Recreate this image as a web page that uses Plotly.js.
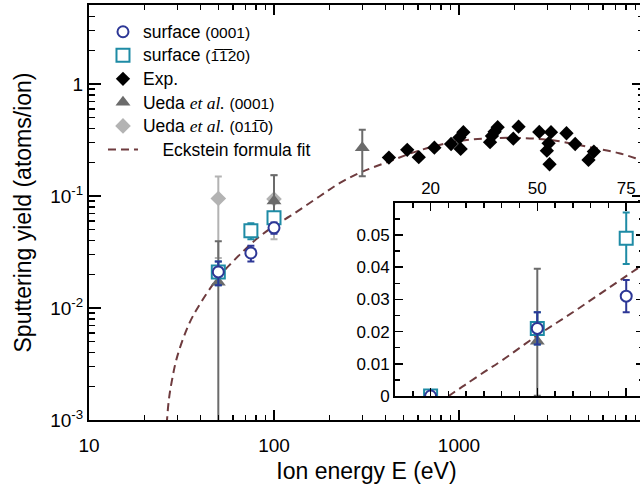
<!DOCTYPE html>
<html>
<head>
<meta charset="utf-8">
<script src="https://cdn.plot.ly/plotly-3.0.1.min.js"></script>
<style>
html,body{margin:0;padding:0;overflow:hidden;background:#fff;}
#chart{width:660px;height:488px;}
</style>
</head>
<body>
<div id="chart"></div>
<script>
// ---- data ----
const surf0001E = [20, 50, 75, 100];
const surf0001Y = [0, 0.021, 0.031, 0.052];
const surf0001Err = [0, 0.005, 0.005, 0.006];

const surf1120E = [20, 50, 75, 100];
const surf1120Y = [0, 0.021, 0.049, 0.064];
const surf1120Err = [0, 0.005, 0.008, 0.008];

const expE = [418, 525, 606, 736, 906, 1021, 1005, 1056, 1472, 1507, 1558, 1618, 1966, 2099, 2716, 3143, 3050, 2985, 3087, 3811, 4246, 5012, 5358];
const expY = [0.22, 0.258, 0.222, 0.27, 0.291, 0.263, 0.332, 0.371, 0.302, 0.344, 0.375, 0.411, 0.325, 0.416, 0.373, 0.371, 0.295, 0.254, 0.192, 0.363, 0.291, 0.21, 0.249];

const ueda0001E = [50, 100, 300];
const ueda0001Y = [0.017, 0.09, 0.27];
const ueda0001ErrPlus = [0.0225, 0.063, 0.12];
const ueda0001ErrMinus = [0.0169, 0.03, 0.12];

const ueda0110E = [50, 100];
const ueda0110Y = [0.095, 0.094];
const ueda0110ErrPlus = [0.054, 0.06];
const ueda0110ErrMinus = [0.067, 0.053];

const eckE = [25, 26, 27, 28, 30, 35, 40, 50, 60, 70, 80, 100, 122, 176, 226, 296, 418, 611, 925, 1400, 2120, 3204, 4853, 7336, 9411, 10000];
const eckY = [0, 0.0007, 0.0015, 0.0022, 0.0037, 0.0074, 0.011, 0.0188, 0.026, 0.0335, 0.041, 0.054, 0.066, 0.099, 0.13, 0.163, 0.203, 0.255, 0.303, 0.326, 0.33, 0.314, 0.277, 0.241, 0.212, 0.205];

const xTickVals = [10, 100, 1000, 10000];
const xTickText = ['10', '100', '1000', '10000'];
const yTickVals = [0.001, 0.01, 0.1, 1];
const yTickText = ['10<sup>-3</sup>', '10<sup>-2</sup>', '10<sup>-1</sup>', '1'];
const insetXTickVals = [20, 50, 75];
const insetYTickVals = [0, 0.01, 0.02, 0.03, 0.04, 0.05];
const insetYTickText = ['0', '0.01', '0.02', '0.03', '0.04', '0.05'];

// ---- styles ----
const FONT = 'Liberation Sans, Arial, sans-serif';
const cNavy = '#2d3796';
const cTeal = '#1e8ba5';
const cDark = '#6b6b6b';
const cLight = '#b3b3b3';
const cEck = '#6e3b3e';

function minorLog(lo, hi) {
  const out = [];
  for (let d = lo; d < hi; d++) {
    for (let k = 2; k <= 9; k++) out.push(k * Math.pow(10, d));
  }
  return out;
}

const etal = '<span style="font-family:\'Liberation Serif\',\'Times New Roman\',serif;font-style:italic">et al.</span>';
const small = (t) => '<span style="font-size:15.5px">' + t + '</span>';
const big = (t) => '<span style="font-size:17.5px">' + t + '</span>';

const mainPos = eckE.map((e, i) => [e, eckY[i]]).filter(p => p[1] > 0);
const insetIdx = (arr) => arr.map((e, i) => i).filter(i => arr[i] <= 80);

const traces = [
  { x: mainPos.map(p => p[0]), y: mainPos.map(p => p[1]), mode: 'lines', name: big('\u00a0\u00a0\u00a0\u00a0Eckstein formula fit'),
    line: { color: cEck, width: 2, dash: '8px,5px', shape: 'spline' }, legendrank: 6 },
  { x: ueda0110E, y: ueda0110Y, mode: 'markers', name: big('Ueda ' + etal + ' ') + small('(011\u03050)'),
    marker: { symbol: 'diamond', size: 12, color: cLight },
    error_y: { type: 'data', symmetric: false, array: ueda0110ErrPlus, arrayminus: ueda0110ErrMinus, color: cLight, thickness: 2, width: 3.5 },
    legendrank: 5 },
  { x: ueda0001E, y: ueda0001Y, mode: 'markers', name: big('Ueda ' + etal + ' ') + small('(0001)'),
    marker: { symbol: 'triangle-up', size: 13, color: cDark },
    error_y: { type: 'data', symmetric: false, array: ueda0001ErrPlus, arrayminus: ueda0001ErrMinus, color: cDark, thickness: 2, width: 3.5 },
    legendrank: 4 },
  { x: expE, y: expY, mode: 'markers', name: big('Exp.'),
    marker: { symbol: 'diamond', size: 11, color: '#000' }, legendrank: 3 },
  { x: surf1120E, y: surf1120Y, mode: 'markers', name: big('surface ') + small('(1\u03051\u030520)'),
    marker: { symbol: 'square', size: 13, color: '#fff', line: { color: cTeal, width: 2 } },
    error_y: { type: 'data', array: surf1120Err, color: cTeal, thickness: 2, width: 3.5 },
    legendrank: 2 },
  { x: surf0001E, y: surf0001Y, mode: 'markers', name: big('surface ') + small('(0001)'),
    marker: { symbol: 'circle', size: 11, color: '#fff', line: { color: cNavy, width: 2 } },
    error_y: { type: 'data', array: surf0001Err, color: cNavy, thickness: 2, width: 3.5 },
    legendrank: 1 }
];

// inset traces
const ie = insetIdx(eckE);
traces.push({ x: ie.map(i => eckE[i]), y: ie.map(i => eckY[i]), xaxis: 'x2', yaxis: 'y2', mode: 'lines', showlegend: false,
  line: { color: cEck, width: 2, dash: '8px,5px', shape: 'spline' } });
const iu = insetIdx(ueda0001E);
traces.push({ x: iu.map(i => ueda0001E[i]), y: iu.map(i => ueda0001Y[i]), xaxis: 'x2', yaxis: 'y2', mode: 'markers', showlegend: false,
  marker: { symbol: 'triangle-up', size: 13, color: cDark },
  error_y: { type: 'data', symmetric: false, array: iu.map(i => ueda0001ErrPlus[i]), arrayminus: iu.map(i => ueda0001ErrMinus[i]), color: cDark, thickness: 2, width: 3.5 } });
const is = insetIdx(surf1120E);
traces.push({ x: is.map(i => surf1120E[i]), y: is.map(i => surf1120Y[i]), xaxis: 'x2', yaxis: 'y2', mode: 'markers', showlegend: false,
  marker: { symbol: 'square', size: 13, color: '#fff', line: { color: cTeal, width: 2 } },
  error_y: { type: 'data', array: is.map(i => surf1120Err[i]), color: cTeal, thickness: 2, width: 3.5 } });
const ic = insetIdx(surf0001E);
traces.push({ x: ic.map(i => surf0001E[i]), y: ic.map(i => surf0001Y[i]), xaxis: 'x2', yaxis: 'y2', mode: 'markers', showlegend: false,
  marker: { symbol: 'circle', size: 11, color: '#fff', line: { color: cNavy, width: 2 } },
  error_y: { type: 'data', array: ic.map(i => surf0001Err[i]), color: cNavy, thickness: 2, width: 3.5 } });

const axisCommon = { showline: true, linecolor: '#000', linewidth: 2, mirror: 'allticks', ticks: 'inside', tickcolor: '#000',
  tickwidth: 1.5, showgrid: false, zeroline: false };

const layout = {
  width: 660, height: 488,
  margin: { l: 89, r: 16, t: 5, b: 68 },
  paper_bgcolor: '#fff', plot_bgcolor: '#fff',
  font: { family: FONT, color: '#000' },
  showlegend: true,
  legend: { x: 0.0252, y: 0.976, xanchor: 'left', yanchor: 'top', bgcolor: 'rgba(0,0,0,0)', font: { size: 15.8, family: FONT } },
  xaxis: Object.assign({}, axisCommon, {
    type: 'log', range: [1, 4], tickmode: 'array', tickvals: xTickVals, ticktext: xTickText, ticklen: 10,
    tickfont: { size: 19 }, ticklabelstandoff: 7,
    minor: { tickmode: 'array', tickvals: minorLog(1, 4), ticks: 'inside', ticklen: 5, tickwidth: 1.5, tickcolor: '#000' },
    title: { text: 'Ion energy E (eV)', font: { size: 23 }, standoff: 8 }
  }),
  yaxis: Object.assign({}, axisCommon, {
    type: 'log', range: [-3, 0.705], tickmode: 'array', tickvals: yTickVals, ticktext: yTickText, ticklen: 12,
    tickfont: { size: 19 },
    minor: { tickmode: 'array', tickvals: minorLog(-3, 1), ticks: 'inside', ticklen: 6, tickwidth: 1.5, tickcolor: '#000' },
    title: { text: 'Sputtering yield (atoms/ion)', font: { size: 23 }, standoff: 12 }
  }),
  xaxis2: Object.assign({}, axisCommon, {
    anchor: 'y2', domain: [0.5514, 1], range: [10, 80], side: 'top', tickmode: 'array', tickvals: insetXTickVals,
    ticklen: 8, tickfont: { size: 17 },
    minor: { tickmode: 'linear', tick0: 10, dtick: 5, ticks: 'inside', ticklen: 5, tickwidth: 1.5, tickcolor: '#000' }
  }),
  yaxis2: Object.assign({}, axisCommon, {
    anchor: 'x2', domain: [0.0578, 0.5234], range: [0, 0.06], tickmode: 'array', tickvals: insetYTickVals, ticktext: insetYTickText,
    ticklen: 8, tickfont: { size: 17 },
    minor: { tickmode: 'linear', tick0: 0, dtick: 0.005, ticks: 'inside', ticklen: 5, tickwidth: 1.5, tickcolor: '#000' }
  })
};

Plotly.newPlot('chart', traces, layout, { staticPlot: true, displayModeBar: false });
</script>
</body>
</html>
